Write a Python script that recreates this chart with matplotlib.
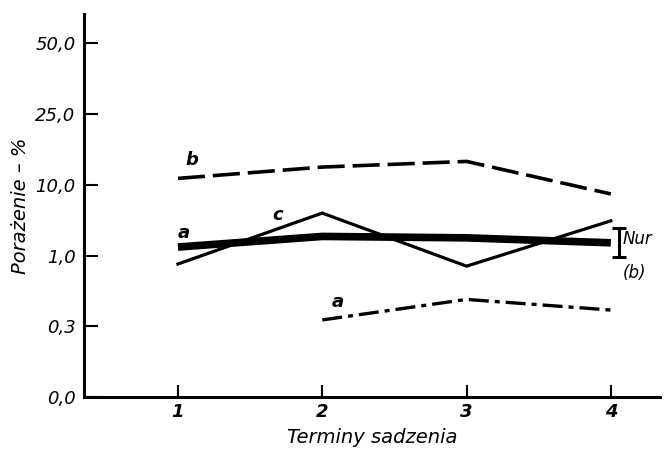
import matplotlib
matplotlib.use("Agg")
import matplotlib.pyplot as plt

# data (y in equally spaced scale positions, labelled by ytick_labels)
terms = [1, 2, 3, 4]
ytick_pos = [0, 1, 2, 3, 4, 5]
ytick_labels = ["0,0", "0,3", "1,0", "10,0", "25,0", "50,0"]
b_vals = [3.09, 3.25, 3.33, 2.87]
a_thick_vals = [2.12, 2.27, 2.25, 2.18]
c_vals = [1.88, 2.60, 1.85, 2.49]
a_terms = [2, 3, 4]
a_dash_vals = [1.09, 1.38, 1.23]
nur_center = 2.185
nur_half = 0.205

plt.rcParams['font.family'] = ['DejaVu Sans']
fig = plt.figure(figsize=(6.72, 4.58), dpi=100)
ax = fig.add_axes([0.125, 0.133, 0.857, 0.836])

ax.plot(terms, b_vals, color='black', lw=2.6, dashes=(7.5, 2.2), solid_capstyle='butt')
ax.plot(terms, a_thick_vals, color='black', lw=5.5, solid_capstyle='butt')
ax.plot(terms, c_vals, color='black', lw=2.3, solid_joinstyle='miter')
ax.plot(a_terms, a_dash_vals, color='black', lw=2.4, dashes=(6, 1.8, 1.5, 1.8))

ax.errorbar([4.06], [nur_center], yerr=[nur_half], color='black', lw=2.2,
            capsize=5, capthick=2.2, fmt='none')

fs = 13
ax.text(1.10, 3.35, "b", style='italic', weight='bold', fontsize=fs, ha='center', va='center')
ax.text(1.04, 2.32, "a", style='italic', weight='bold', fontsize=fs, ha='center', va='center')
ax.text(1.69, 2.57, "c", style='italic', weight='bold', fontsize=fs, ha='center', va='center')
ax.text(2.11, 1.34, "a", style='italic', weight='bold', fontsize=fs, ha='center', va='center')
ax.text(4.08, 2.24, "Nur", style='italic', fontsize=fs-1, ha='left', va='center')
ax.text(4.08, 1.76, "(b)", style='italic', fontsize=fs-1, ha='left', va='center')

ax.set_xlim(0.349, 4.34)
ax.set_ylim(0, 5.41)
ax.set_xticks(terms)
ax.set_xticklabels([str(t) for t in terms], style='italic', weight='bold', fontsize=fs)
ax.set_yticks(ytick_pos)
ax.set_yticklabels(ytick_labels, style='italic', fontsize=fs)
ax.tick_params(axis='y', direction='in', length=10, width=1.5, pad=6)
ax.tick_params(axis='x', direction='in', length=9, width=1.5, pad=4)

for s in ['top', 'right']:
    ax.spines[s].set_visible(False)
for s in ['left', 'bottom']:
    ax.spines[s].set_linewidth(2.2)

ax.set_xlabel("Terminy sadzenia", style='italic', fontsize=fs+1, labelpad=5)
ax.set_ylabel("Porażenie – %", style='italic', fontsize=fs+1, labelpad=4)

fig.savefig("out.png", dpi=100)
